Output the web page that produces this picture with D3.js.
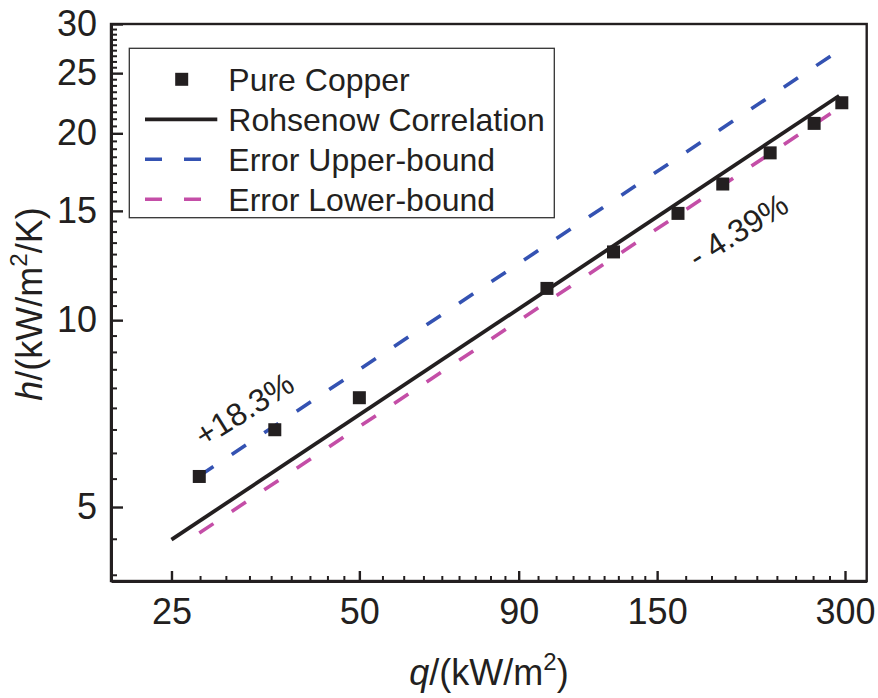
<!DOCTYPE html>
<html>
<head>
<meta charset="utf-8">
<script src="https://cdn.jsdelivr.net/npm/d3@7/dist/d3.min.js"></script>
<style>
  html, body { margin: 0; padding: 0; background: #fff; }
  svg { display: block; }
  text { font-family: "Liberation Sans", Arial, sans-serif; fill: #231f20; }
</style>
</head>
<body>
<svg id="chart" width="878" height="698"></svg>
<script>
// Measured boiling data: heat flux q (kW/m²) and heat transfer coefficient h (kW/m²/K)
const heatFlux = [27.7, 36.6, 50.0, 99.9, 127.7, 162.0, 191.1, 227.6, 267.7, 296.5];
const htc      = [5.60, 6.66, 7.50, 11.25, 12.88, 14.86, 16.57, 18.60, 20.75, 22.40];

// Rohsenow correlation (straight line on log-log axes), end points
const rohsenowQ = [25, 293.6];
const rohsenowH = [4.43, 22.99];

// Error bands: +18.3% and -4.39% relative to the correlation
const upperQ = [27.7, 296.5];
const upperH = [5.61, 27.38];
const lowerQ = [27.7, 296.5];
const lowerH = [4.54, 22.13];

// Axis ticks
const xMajorTicks = [25, 50, 90, 150, 300];
const yMajorTicks = [5, 10, 15, 20, 25, 30];

const legendLabels = ["Pure Copper", "Rohsenow Correlation", "Error Upper-bound", "Error Lower-bound"];
const annotUpper = "+18.3%";
const annotLower = "- 4.39%";

const blue = "#3452b2";
const pink = "#c44ea7";
const ink = "#231f20";

const svg = d3.select("#chart");
const plotL = 111, plotR = 866.7, plotT = 24, plotB = 581;

const x = d3.scaleLog().domain([20, 325]).range([plotL, plotR]);
const y = d3.scaleLog().domain([3.8, 30]).range([plotB, plotT]);

// 8 evenly spaced minor ticks between consecutive major ticks
function minorBetween(majors) {
  const out = [];
  for (let i = 0; i < majors.length - 1; i++) {
    const a = majors[i], b = majors[i + 1], step = (b - a) / 9;
    for (let k = 1; k <= 8; k++) out.push(a + k * step);
  }
  return out;
}
const xMinor = minorBetween(xMajorTicks);
const yMinor = minorBetween(yMajorTicks);
// continue the first interval's spacing below the lowest major tick on y
{
  const step = (yMajorTicks[1] - yMajorTicks[0]) / 9;
  for (let v = yMajorTicks[0] - step; v > y.domain()[0]; v -= step) yMinor.push(v);
}

// frame
svg.append("rect")
  .attr("x", plotL).attr("y", plotT)
  .attr("width", plotR - plotL).attr("height", plotB - plotT)
  .attr("fill", "none").attr("stroke", ink).attr("stroke-width", 2.4);

// minor ticks
svg.append("g").attr("transform", `translate(0,${plotB})`)
  .call(d3.axisBottom(x).tickValues(xMinor).tickSizeInner(-5).tickSizeOuter(0).tickFormat(""))
  .call(g => g.select(".domain").remove())
  .call(g => g.selectAll("line").attr("stroke", ink).attr("stroke-width", 2));
svg.append("g").attr("transform", `translate(${plotL},0)`)
  .call(d3.axisLeft(y).tickValues(yMinor).tickSizeInner(-6).tickSizeOuter(0).tickFormat(""))
  .call(g => g.select(".domain").remove())
  .call(g => g.selectAll("line").attr("stroke", ink).attr("stroke-width", 2));

// major ticks and labels
svg.append("g").attr("transform", `translate(0,${plotB})`)
  .call(d3.axisBottom(x).tickValues(xMajorTicks).tickSizeInner(-10).tickSizeOuter(0)
        .tickPadding(17).tickFormat(d3.format("d")))
  .call(g => g.select(".domain").attr("stroke", ink).attr("stroke-width", 3))
  .call(g => g.selectAll("line").attr("stroke", ink).attr("stroke-width", 2.4))
  .call(g => g.selectAll("text").attr("font-size", 36).attr("fill", ink)
        .attr("font-family", "Liberation Sans, Arial, sans-serif"));
svg.append("g").attr("transform", `translate(${plotL},0)`)
  .call(d3.axisLeft(y).tickValues(yMajorTicks).tickSizeInner(-12).tickSizeOuter(0)
        .tickPadding(14).tickFormat(d3.format("d")))
  .call(g => g.select(".domain").attr("stroke", ink).attr("stroke-width", 3))
  .call(g => g.selectAll("line").attr("stroke", ink).attr("stroke-width", 2.4))
  .call(g => g.selectAll("text").attr("font-size", 36).attr("fill", ink)
        .attr("font-family", "Liberation Sans, Arial, sans-serif"));

// lines
const line = d3.line().x(d => x(d[0])).y(d => y(d[1]));
const zip = (a, b) => a.map((v, i) => [v, b[i]]);

svg.append("path").datum(zip(upperQ, upperH)).attr("d", line)
  .attr("fill", "none").attr("stroke", blue).attr("stroke-width", 3.6)
  .attr("stroke-dasharray", "17,22");
svg.append("path").datum(zip(lowerQ, lowerH)).attr("d", line)
  .attr("fill", "none").attr("stroke", pink).attr("stroke-width", 3.6)
  .attr("stroke-dasharray", "17,22");
svg.append("path").datum(zip(rohsenowQ, rohsenowH)).attr("d", line)
  .attr("fill", "none").attr("stroke", ink).attr("stroke-width", 3.8);

// data markers
const ms = 13;
svg.append("g").selectAll("rect").data(zip(heatFlux, htc)).join("rect")
  .attr("x", d => x(d[0]) - ms / 2).attr("y", d => y(d[1]) - ms / 2)
  .attr("width", ms).attr("height", ms).attr("fill", ink);

// annotations
svg.append("text").attr("transform", "translate(244,409) rotate(-32)")
  .attr("text-anchor", "middle").attr("dy", "0.36em")
  .attr("font-size", 32).text(annotUpper);
svg.append("text").attr("transform", "translate(738,230) rotate(-32)")
  .attr("text-anchor", "middle").attr("dy", "0.36em")
  .attr("font-size", 32).text(annotLower);

// legend
const lg = svg.append("g");
lg.append("rect").attr("x", 129.3).attr("y", 48.3).attr("width", 425).attr("height", 169.4)
  .attr("fill", "#fff").attr("stroke", "#333").attr("stroke-width", 1.3);
const rowY = i => 79.3 + i * 40;
const symX0 = 145, symX1 = 217.3, textX = 228.3;
lg.append("rect").attr("x", 181.7 - ms / 2).attr("y", rowY(0) - ms / 2)
  .attr("width", ms).attr("height", ms).attr("fill", ink);
lg.append("line").attr("x1", symX0).attr("x2", symX1).attr("y1", rowY(1)).attr("y2", rowY(1))
  .attr("stroke", ink).attr("stroke-width", 3.8);
lg.append("line").attr("x1", symX0).attr("x2", symX1).attr("y1", rowY(2)).attr("y2", rowY(2))
  .attr("stroke", blue).attr("stroke-width", 3.6).attr("stroke-dasharray", "17,22");
lg.append("line").attr("x1", symX0).attr("x2", symX1).attr("y1", rowY(3)).attr("y2", rowY(3))
  .attr("stroke", pink).attr("stroke-width", 3.6).attr("stroke-dasharray", "17,22");
lg.selectAll("text.lab").data(legendLabels).join("text").attr("class", "lab")
  .attr("x", textX).attr("y", (d, i) => rowY(i) + 11.5)
  .attr("font-size", 32).text(d => d);

// axis titles
const xt = svg.append("text").attr("transform", "translate(489,685)")
  .attr("text-anchor", "middle").attr("font-size", 36);
xt.append("tspan").attr("font-style", "italic").text("q");
xt.append("tspan").text("/(kW/m");
xt.append("tspan").attr("font-size", 24).attr("dy", -15).text("2");
xt.append("tspan").attr("dy", 15).text(")");

const yt = svg.append("text").attr("transform", "translate(42,304) rotate(-90)")
  .attr("text-anchor", "middle").attr("font-size", 36);
yt.append("tspan").attr("font-style", "italic").text("h");
yt.append("tspan").text("/(kW/m");
yt.append("tspan").attr("font-size", 24).attr("dy", -15).text("2");
yt.append("tspan").attr("dy", 15).text("/K)");
</script>
</body>
</html>
